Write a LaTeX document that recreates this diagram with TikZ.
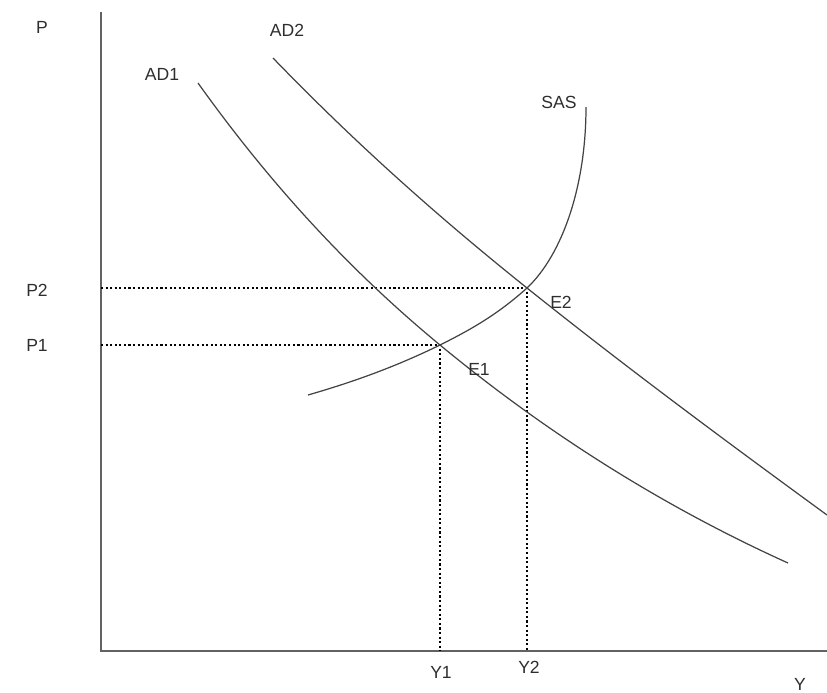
\documentclass[tikz,border=0pt]{standalone}
\usepackage{fontspec}
\setmainfont{Liberation Sans}
\usepackage{tikz}
\usepackage{xcolor}

\definecolor{inkgray}{HTML}{2E2E2E}
\tikzset{
  axisline/.style={draw=inkgray!75,line width=1.4pt},
  curveline/.style={draw=inkgray!90,line width=1.05pt},
  guideline/.style={draw=black,line width=2pt,dash pattern=on 1.8pt off 2.1pt},
  lbl/.style={inner sep=0pt,text=inkgray,font=\fontsize{15}{17}\selectfont}
}

\begin{document}
\begin{tikzpicture}[x=0.03cm,y=-0.03cm]
\useasboundingbox (0,0) rectangle (827,693);
% axes
\coordinate (O) at (101,651);
\coordinate (ytop) at (101,12);
\coordinate (xend) at (827,651);
\draw[axisline] (ytop) -- (O) -- (xend);
% equilibrium points
\coordinate (E1) at (440,345);
\coordinate (E2) at (527,288);
\coordinate (p1) at (101,345);
\coordinate (p2) at (101,288);
\coordinate (y1) at (440,651);
\coordinate (y2) at (527,651);
\draw[guideline] (p2) -- (E2) -- (y2);
\draw[guideline] (p1) -- (E1) -- (y1);
% curve ends
\coordinate (ad1a) at (198,83);
\coordinate (ad1b) at (788,563);
\coordinate (ad2a) at (273,58);
\coordinate (ad2b) at (827,515);
\coordinate (sasa) at (308,395);
\coordinate (sasb) at (586,107);
% AD1
\draw[curveline] (ad1a) .. controls (278,195) and (360,279) .. (E1)
  .. controls (555,440) and (673,511) .. (ad1b);
% AD2
\draw[curveline] (ad2a) .. controls (358,146) and (442,220) .. (E2)
  .. controls (627,368) and (727,442) .. (ad2b);
% SAS
\draw[curveline] (sasa) .. controls (353,382) and (395,367) .. (E1)
  .. controls (470,330) and (497,315) .. (E2)
  .. controls (562,255) and (586,187) .. (sasb);
% labels
\node[lbl] (lP) at (42,27) {P};
\node[lbl] (lAD1) at (162,74) {AD1};
\node[lbl] (lAD2) at (287,30) {AD2};
\node[lbl] (lSAS) at (559,102) {SAS};
\node[lbl] (lP2) at (37,290) {P2};
\node[lbl] (lP1) at (37,345) {P1};
\node[lbl] (lE1) at (479,369) {E1};
\node[lbl] (lE2) at (561,302) {E2};
\node[lbl] (lY1) at (441,672) {Y1};
\node[lbl] (lY2) at (529,667) {Y2};
\node[lbl] (lY) at (800,684) {Y};
\end{tikzpicture}
\end{document}
